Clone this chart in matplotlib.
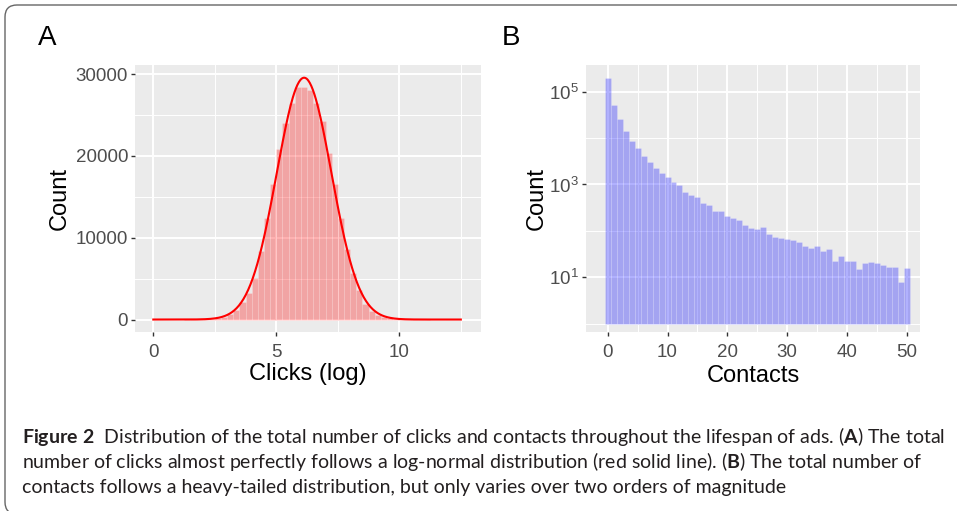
import numpy as np
import matplotlib
matplotlib.use("Agg")
import matplotlib.pyplot as plt
from matplotlib.patches import FancyBboxPatch
from matplotlib.ticker import FixedLocator, FixedFormatter, NullFormatter
from matplotlib import font_manager

# A: histogram of log(clicks) per ad
clicks_bin_width = 0.25
clicks_bin_starts = np.arange(0, 12.75, clicks_bin_width)
clicks_counts = [
    1, 0, 1, 2, 3, 6, 12, 25, 50, 100,
    190, 360, 650, 1200, 2100, 3300, 5080, 8350, 12450, 16600,
    20800, 24000, 26500, 28450, 28450, 28050, 26500, 24200, 20400, 16600,
    12400, 8650, 5700, 3550, 1850, 1000, 600, 320, 160, 80,
    40, 20, 12, 7, 4, 3, 2, 1, 1, 1,
    1,
]
# normal fit on the log scale (i.e. log-normal in clicks)
clicks_mu = 6.13
clicks_sd = 1.11

# B: number of contacts per ad
contacts = np.arange(0, 51)
contacts_counts = [
    200000, 51600, 25400, 14200, 8800, 6030, 4110, 3010, 2230, 1740,
    1470, 1150, 975, 700, 594, 525, 400, 360, 268, 268,
    210, 185, 168, 135, 114, 110, 119, 85, 73, 72,
    66, 64, 58, 48, 42, 48, 37, 40, 22, 29,
    23, 22, 15, 20, 21, 20, 18, 17, 17, 8,
    16,
]

clicks_xticks = [0, 5, 10]
clicks_yticks = [0, 10000, 20000, 30000]
contacts_xticks = [0, 10, 20, 30, 40, 50]
contacts_yticks = [1e1, 1e3, 1e5]
contacts_ylabels = [r"$10^{1}$", r"$10^{3}$", r"$10^{5}$"]

caption_lines = [
    r"$\mathbf{Figure\ 2}$  Distribution of the total number of clicks and contacts "
    r"throughout the lifespan of ads. ($\mathbf{A}$) The total",
    r"number of clicks almost perfectly follows a log-normal distribution "
    r"(red solid line). ($\mathbf{B}$) The total number of",
    "contacts follows a heavy-tailed distribution, but only varies over two "
    "orders of magnitude",
]

W, H = 957, 511

installed = {f.name for f in font_manager.fontManager.ttflist}
caption_font = "Lato"
for name in ["Liberation Sans Narrow", "Lato", "DejaVu Sans"]:
    if name in installed:
        caption_font = name
        break

plt.rcParams["font.family"] = ["Liberation Sans", "DejaVu Sans"]
plt.rcParams["mathtext.fontset"] = "custom"
plt.rcParams["mathtext.rm"] = "Liberation Sans"
plt.rcParams["mathtext.it"] = "Liberation Sans:italic"
plt.rcParams["mathtext.bf"] = caption_font + ":bold"

fig = plt.figure(figsize=(W / 100, H / 100), dpi=100)
fig.patch.set_facecolor("white")


def add_axes_px(left, top, right, bottom):
    return fig.add_axes([left / W, 1 - bottom / H, (right - left) / W, (bottom - top) / H])


def gg_style(ax):
    ax.set_facecolor("#EBEBEB")
    for s in ax.spines.values():
        s.set_visible(False)
    ax.set_axisbelow(True)
    ax.grid(which="major", color="white", linewidth=1.4)
    ax.grid(which="minor", color="white", linewidth=0.7)
    ax.tick_params(which="major", length=2.75, width=1.0, color="#333333",
                   labelcolor="#4D4D4D", labelsize=13.5, pad=2.2)
    ax.tick_params(axis="x", which="major", pad=6.5)
    ax.tick_params(which="minor", length=0)


# panel A
ax1 = add_axes_px(135, 65, 481, 331.5)
gg_style(ax1)
ax1.bar(clicks_bin_starts, clicks_counts, width=clicks_bin_width, align="edge",
        facecolor=(1, 0, 0, 0.3), edgecolor=(1, 1, 1, 0.25), linewidth=0.5)
n_ads = np.sum(clicks_counts)
xs = np.linspace(0, 12.5, 400)
fit = n_ads * clicks_bin_width * np.exp(-0.5 * ((xs - clicks_mu) / clicks_sd) ** 2) \
    / (clicks_sd * np.sqrt(2 * np.pi))
ax1.plot(xs, fit, color="red", linewidth=1.5)
ax1.set_xlim(-0.744, 13.32)
ax1.set_ylim(-1463, 31100)
ax1.xaxis.set_major_locator(FixedLocator(clicks_xticks))
ax1.xaxis.set_minor_locator(FixedLocator([2.5, 7.5, 12.5]))
ax1.yaxis.set_major_locator(FixedLocator(clicks_yticks))
ax1.yaxis.set_minor_locator(FixedLocator([5000, 15000, 25000]))
ax1.set_xlabel("Clicks (log)", fontsize=17)
ax1.set_ylabel("Count", fontsize=17)
ax1.xaxis.set_label_coords(0.5, (331.5 - 374) / 266.5)
ax1.xaxis.label.set_va("center")
ax1.yaxis.set_label_coords((60 - 135) / 346, 0.5)
ax1.yaxis.label.set_va("center")

# panel B
ax2 = add_axes_px(586, 65, 920, 331.5)
gg_style(ax2)
ax2.set_yscale("log")
ax2.bar(contacts, np.array(contacts_counts) - 1, bottom=1, width=1.0,
        facecolor=(0, 0, 1, 0.3), edgecolor=(1, 1, 1, 0.25), linewidth=0.5)
ax2.set_xlim(-3.63, 52.22)
ax2.set_ylim(10 ** -0.168, 10 ** 5.575)
ax2.xaxis.set_major_locator(FixedLocator(contacts_xticks))
ax2.xaxis.set_minor_locator(FixedLocator([5, 15, 25, 35, 45]))
ax2.yaxis.set_major_locator(FixedLocator(contacts_yticks))
ax2.yaxis.set_major_formatter(FixedFormatter(contacts_ylabels))
ax2.yaxis.set_minor_locator(FixedLocator([1e0, 1e2, 1e4]))
ax2.yaxis.set_minor_formatter(NullFormatter())
ax2.tick_params(which="minor", length=0)
ax2.set_xlabel("Contacts", fontsize=17)
ax2.set_ylabel("Count", fontsize=17)
ax2.xaxis.set_label_coords(0.5, (331.5 - 376) / 266.5)
ax2.xaxis.label.set_va("center")
ax2.yaxis.set_label_coords((537 - 586) / 334, 0.5)
ax2.yaxis.label.set_va("center")

# panel letters
fig.text(38 / W, 1 - 45 / H, "A", fontsize=20, va="baseline")
fig.text(502 / W, 1 - 45 / H, "B", fontsize=20, va="baseline")

# caption, sized so the first line spans the box width
baselines = [443, 468, 493]
texts = [fig.text(22 / W, 1 - b / H, line, fontsize=12, family=caption_font,
                  va="baseline", color="#231F20")
         for line, b in zip(caption_lines, baselines)]
renderer = fig.canvas.get_renderer()
w0 = texts[0].get_window_extent(renderer).width
size = 12 * 919 / w0
for t in texts:
    t.set_fontsize(size)

# rounded frame around the figure
frame = FancyBboxPatch((0.05, -0.03), 9.7, 5.06 + 0.03,
                       boxstyle="round,pad=0,rounding_size=0.12",
                       transform=fig.dpi_scale_trans, facecolor="none",
                       edgecolor="#666666", linewidth=1.0)
fig.add_artist(frame)

fig.savefig("out.png", dpi=100)
